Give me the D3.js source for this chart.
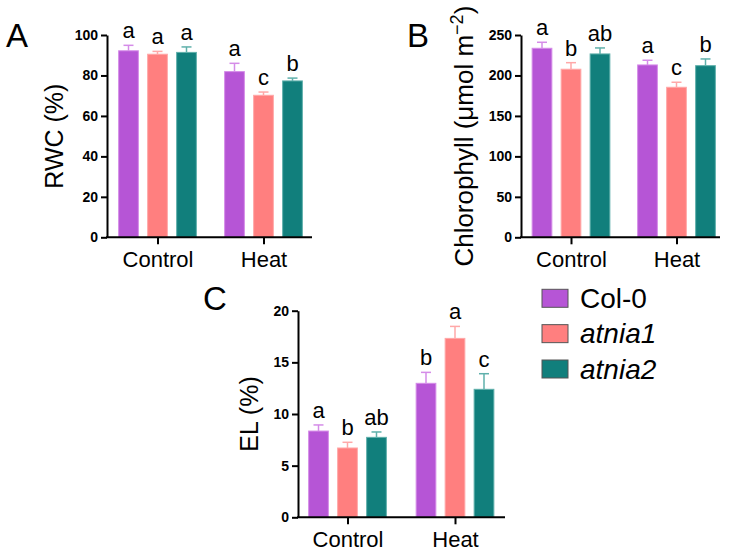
<!DOCTYPE html>
<html>
<head>
<meta charset="utf-8">
<script src="https://cdn.jsdelivr.net/npm/d3@7"></script>
<style>
  body { margin: 0; background: #fff; }
  svg text { font-family: Arial, "Liberation Sans", sans-serif; }
</style>
</head>
<body>
<svg id="fig" width="735" height="557"></svg>
<script>
const groups = ["Control", "Heat"];
const genotypes = ["Col-0", "atnia1", "atnia2"];

// means and SD per group (rows) and genotype (columns)
const rwcMean = [[92.2, 90.5, 91.4], [81.9, 70.2, 77.3]];
const rwcErr = [[2.7, 1.4, 2.7], [4.1, 1.6, 1.4]];
const rwcLetters = [["a", "a", "a"], ["a", "c", "b"]];
const rwcTicks = [0, 20, 40, 60, 80, 100];

const chlMean = [[233.6, 207.7, 226.6], [213.0, 185.4, 212.1]];
const chlErr = [[7.4, 8.1, 7.4], [5.8, 6.2, 8.3]];
const chlLetters = [["a", "b", "ab"], ["a", "c", "b"]];
const chlTicks = [0, 50, 100, 150, 200, 250];

const elMean = [[8.35, 6.71, 7.74], [12.97, 17.32, 12.39]];
const elErr = [[0.59, 0.55, 0.52], [1.06, 1.16, 1.51]];
const elLetters = [["a", "b", "ab"], ["b", "a", "c"]];
const elTicks = [0, 5, 10, 15, 20];

const fills = ["#b655d6", "#ff7f7f", "#117f7c"];
const edges = ["#d58ce8", "#ffa8a8", "#5fb0ab"];

const svg = d3.select("#fig");

function drawPanel(p) {
  const g = svg.append("g");
  const y = d3.scaleLinear().domain([0, p.ticks[p.ticks.length - 1]]).range([p.bottom, p.top]);
  const x = d3.scalePoint().domain(groups).range(p.centers);
  const inner = d3.scaleBand().domain(genotypes).range([-43.5, 43.5]).paddingInner(0.32).paddingOuter(0.16);

  const bars = [];
  groups.forEach((grp, i) => genotypes.forEach((gt, j) => {
    bars.push({ grp, gt, j, v: p.mean[i][j], e: p.err[i][j], l: p.letters[i][j] });
  }));

  const bx = d => x(d.grp) + inner(d.gt);
  const bw = inner.bandwidth();

  g.selectAll("rect.bar").data(bars).enter().append("rect")
    .attr("class", "bar")
    .attr("x", d => bx(d))
    .attr("y", d => y(d.v))
    .attr("width", bw)
    .attr("height", d => y(0) - y(d.v))
    .attr("fill", d => fills[d.j])
    .attr("stroke", d => edges[d.j])
    .attr("stroke-width", 1);

  // error bars (upper only)
  const eb = g.selectAll("g.err").data(bars).enter().append("g")
    .attr("stroke", d => edges[d.j])
    .attr("stroke-width", 1.5);
  eb.append("line")
    .attr("x1", d => bx(d) + bw / 2).attr("x2", d => bx(d) + bw / 2)
    .attr("y1", d => y(d.v)).attr("y2", d => y(d.v + d.e));
  eb.append("line")
    .attr("x1", d => bx(d) + bw / 2 - 5).attr("x2", d => bx(d) + bw / 2 + 5)
    .attr("y1", d => y(d.v + d.e)).attr("y2", d => y(d.v + d.e));

  g.selectAll("text.sig").data(bars).enter().append("text")
    .attr("x", d => bx(d) + bw / 2)
    .attr("y", d => y(d.v + d.e) - 7)
    .attr("text-anchor", "middle")
    .attr("font-size", 22)
    .text(d => d.l);

  // y axis
  const ya = g.append("g")
    .attr("transform", `translate(${p.left},0)`)
    .call(d3.axisLeft(y).tickValues(p.ticks).tickSize(6).tickSizeOuter(0).tickPadding(3));
  ya.attr("font-size", 14).attr("font-weight", "bold").attr("font-family", null);
  ya.select(".domain").attr("stroke-width", 2);
  ya.selectAll(".tick line").attr("stroke-width", 2);
  ya.selectAll(".tick text").attr("fill", "#000");

  // x axis
  g.append("line")
    .attr("x1", p.left - 1).attr("x2", p.right)
    .attr("y1", p.bottom).attr("y2", p.bottom)
    .attr("stroke", "#000").attr("stroke-width", 2);
  const xa = g.append("g")
    .attr("transform", `translate(0,${p.bottom})`)
    .call(d3.axisBottom(x).tickSize(7).tickPadding(7));
  xa.attr("font-size", 22).attr("font-family", null);
  xa.select(".domain").remove();
  xa.selectAll(".tick line").attr("stroke-width", 2);
  xa.selectAll(".tick text").attr("fill", "#000");

  // y label
  const yl = g.append("text")
    .attr("transform", `translate(${p.labelX},${(p.top + p.bottom) / 2}) rotate(-90)`)
    .attr("text-anchor", "middle")
    .attr("font-size", p.labelSize);
  p.label(yl);

  g.append("text")
    .attr("x", p.tagX).attr("y", p.tagY)
    .attr("font-size", 33)
    .text(p.tag);
}

drawPanel({
  tag: "A", tagX: 6, tagY: 47,
  left: 107, right: 312, top: 35, bottom: 237.3, centers: [157.5, 263.5], labelX: 63, labelSize: 25,
  ticks: rwcTicks, mean: rwcMean, err: rwcErr, letters: rwcLetters,
  label: t => t.text("RWC (%)")
});

drawPanel({
  tag: "B", tagX: 407, tagY: 47,
  left: 521, right: 720, top: 35, bottom: 237.3, centers: [571, 676.5], labelX: 473, labelSize: 26,
  ticks: chlTicks, mean: chlMean, err: chlErr, letters: chlLetters,
  label: t => {
    t.append("tspan").text("Chlorophyll (μmol m");
    t.append("tspan").attr("font-size", 18).attr("dy", -10).text("−2");
    t.append("tspan").attr("dy", 10).text(")");
  }
});

drawPanel({
  tag: "C", tagX: 203, tagY: 310,
  left: 298, right: 505, top: 310.7, bottom: 517.3, centers: [347.5, 455], labelX: 258, labelSize: 25,
  ticks: elTicks, mean: elMean, err: elErr, letters: elLetters,
  label: t => t.text("EL (%)")
});

// legend
const legend = svg.append("g");
const rowY = d3.scalePoint().domain(genotypes).range([289.3, 360]);
const li = legend.selectAll("g").data(genotypes).enter().append("g")
  .attr("transform", d => `translate(542,${rowY(d)})`);
li.append("rect")
  .attr("width", 26).attr("height", 18)
  .attr("fill", (d, i) => fills[i])
  .attr("stroke", "#555").attr("stroke-width", 1);
li.append("text")
  .attr("x", 38).attr("y", 18.5)
  .attr("font-size", 28)
  .attr("font-style", (d, i) => i === 0 ? "normal" : "italic")
  .text(d => d);
</script>
</body>
</html>
